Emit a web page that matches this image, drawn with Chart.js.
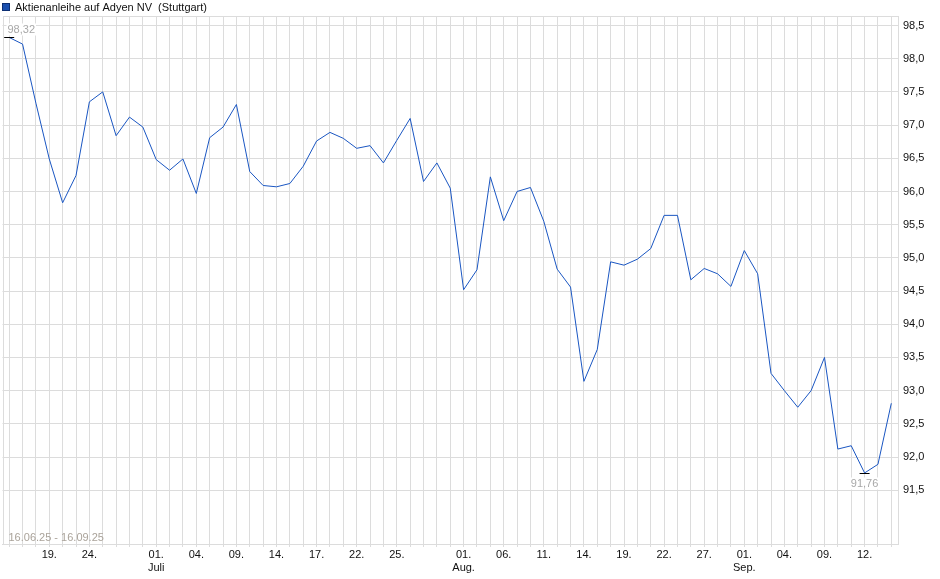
<!DOCTYPE html>
<html><head><meta charset="utf-8">
<script src="https://cdn.jsdelivr.net/npm/chart.js@4.4.1/dist/chart.umd.min.js"></script>
<style>html,body{margin:0;padding:0;background:#fff;} #wrap{width:940px;height:579px;}</style>
</head><body><div id="wrap"><canvas id="c" width="940" height="579"></canvas></div>
<script>
const seriesLabel = 'Aktienanleihe auf Adyen NV  (Stuttgart)';
const rangeText = '16.06.25 - 16.09.25';
const dates = [
 '16.06.','17.06.','18.06.','19.06.','20.06.','23.06.','24.06.','25.06.','26.06.','27.06.','30.06.',
 '01.07.','02.07.','03.07.','04.07.','07.07.','08.07.','09.07.','10.07.','11.07.','14.07.','15.07.','16.07.','17.07.','18.07.','21.07.','22.07.','23.07.','24.07.','25.07.','28.07.','29.07.','30.07.','31.07.',
 '01.08.','04.08.','05.08.','06.08.','07.08.','08.08.','11.08.','12.08.','13.08.','14.08.','15.08.','18.08.','19.08.','20.08.','21.08.','22.08.','25.08.','26.08.','27.08.','28.08.','29.08.',
 '01.09.','02.09.','03.09.','04.09.','05.09.','08.09.','09.09.','10.09.','11.09.','12.09.','15.09.','16.09.'
];
const values = [
 98.32, 98.22, 97.33, 96.49, 95.83, 96.24, 97.35, 97.50, 96.84, 97.12, 96.97,
 96.48, 96.32, 96.49, 95.97, 96.81, 96.97, 97.31, 96.30, 96.09, 96.07, 96.12, 96.38, 96.76, 96.89, 96.80, 96.65, 96.69, 96.43, 96.77, 97.10, 96.15, 96.43, 96.05,
 94.52, 94.82, 96.22, 95.56, 96.00, 96.06, 95.55, 94.83, 94.56, 93.14, 93.62, 94.94, 94.89, 94.98, 95.14, 95.64, 95.64, 94.67, 94.84, 94.76, 94.57,
 95.11, 94.76, 93.26, 93.00, 92.75, 93.00, 93.50, 92.12, 92.17, 91.76, 91.89, 92.81
];
const xTickDates = ['19.06.','24.06.','01.07.','04.07.','09.07.','14.07.','17.07.','22.07.','25.07.',
 '01.08.','06.08.','11.08.','14.08.','19.08.','22.08.','27.08.','01.09.','04.09.','09.09.','12.09.'];
const monthNames = {'07':'Juli','08':'Aug.','09':'Sep.'};
const yTicks = [91.5, 92.0, 92.5, 93.0, 93.5, 94.0, 94.5, 95.0, 95.5, 96.0, 96.5, 97.0, 97.5, 98.0, 98.5];

const FONT = '"Liberation Sans", Arial, Helvetica, sans-serif';
const GRID = '#dcdcdc';
const fmt = (v, d) => v.toFixed(d).replace('.', ',');

const framePlugin = {
  id: 'frame',
  beforeDatasetsDraw(chart) {
    const a = chart.chartArea, c = chart.ctx;
    c.save();
    c.strokeStyle = GRID; c.lineWidth = 1;
    c.strokeRect(Math.round(a.left) + 0.5, Math.round(a.top) + 0.5,
                 Math.round(a.right - a.left) - 1, Math.round(a.bottom - a.top));
    c.restore();
  },
  afterDatasetsDraw(chart) {
    const c = chart.ctx, xs = chart.scales.x, ys = chart.scales.y, a = chart.chartArea;
    const maxV = Math.max(...values), minV = Math.min(...values);
    const iMax = values.indexOf(maxV), iMin = values.indexOf(minV);
    c.save();
    c.font = '11px ' + FONT;
    c.textBaseline = 'middle';
    // max marker
    let px = xs.getPixelForValue(iMax), py = Math.round(ys.getPixelForValue(maxV)) + 0.5;
    let t = fmt(maxV, 2), w = c.measureText(t).width;
    let tx = Math.max(a.left + 5, px - w / 2), ty = py - 8;
    c.fillStyle = '#fff'; c.fillRect(tx - 1, ty - 6, w + 2, 12);
    c.fillStyle = '#a8a8a8'; c.textAlign = 'left'; c.fillText(t, tx, ty);
    c.strokeStyle = '#000'; c.lineWidth = 1;
    c.beginPath(); c.moveTo(px - 5, py); c.lineTo(px + 5, py); c.stroke();
    // min marker
    px = xs.getPixelForValue(iMin); py = Math.round(ys.getPixelForValue(minV)) + 0.5;
    t = fmt(minV, 2); w = c.measureText(t).width;
    tx = px - w / 2; ty = py + 10;
    c.fillStyle = '#fff'; c.fillRect(tx - 1, ty - 6, w + 2, 12);
    c.fillStyle = '#a8a8a8'; c.fillText(t, tx, ty);
    c.beginPath(); c.moveTo(px - 5, py); c.lineTo(px + 5, py); c.stroke();
    // date range
    c.fillStyle = '#aaa39a';
    c.fillText(rangeText, a.left + 6, a.bottom - 6);
    c.restore();
  },
  afterDraw(chart) {
    const c = chart.ctx;
    c.save();
    c.fillStyle = '#1a4fae'; c.fillRect(2, 3, 8, 8);
    c.strokeStyle = '#0c2f73'; c.lineWidth = 1; c.strokeRect(2.5, 3.5, 7, 7);
    c.fillStyle = '#111'; c.font = '11px ' + FONT; c.textBaseline = 'alphabetic'; c.textAlign = 'left';
    c.fillText(chart.data.datasets[0].label, 15, 11);
    c.restore();
  }
};

new Chart(document.getElementById('c'), {
  type: 'line',
  data: {
    labels: dates,
    datasets: [{
      label: seriesLabel,
      data: values,
      borderColor: '#1a56c2',
      borderWidth: 1,
      pointRadius: 0,
      tension: 0,
      fill: false
    }]
  },
  plugins: [framePlugin],
  options: {
    responsive: false,
    animation: false,
    devicePixelRatio: 1,
    layout: { padding: { top: 16, left: 2.5, right: 0, bottom: 0 } },
    plugins: { legend: { display: false }, tooltip: { enabled: false }, title: { display: false } },
    scales: {
      x: {
        type: 'category',
        offset: true,
        grid: { offset: false, color: GRID, lineWidth: 1, drawTicks: true, tickLength: 3, tickColor: GRID },
        border: { display: true, color: GRID },
        ticks: {
          autoSkip: false, maxRotation: 0, minRotation: 0, padding: 1,
          color: '#111', font: { family: FONT, size: 11 },
          callback: function (v, i) {
            const d = dates[i];
            if (!xTickDates.includes(d)) return '';
            const day = d.slice(0, 3);
            if (day === '01.') return [day, monthNames[d.slice(3, 5)]];
            return day;
          }
        },
        afterFit: s => { s.height = 35; }
      },
      y: {
        type: 'linear',
        position: 'right',
        min: 90.69,
        max: 98.643,
        grid: { color: GRID, lineWidth: 1, drawTicks: false },
        border: { display: true, color: GRID },
        ticks: {
          padding: 5, color: '#111', font: { family: FONT, size: 11 },
          callback: v => fmt(v, 1)
        },
        afterBuildTicks: s => { s.ticks = yTicks.map(v => ({ value: v })); },
        afterFit: s => { s.width = 42; }
      }
    }
  }
});
</script>
</body></html>
